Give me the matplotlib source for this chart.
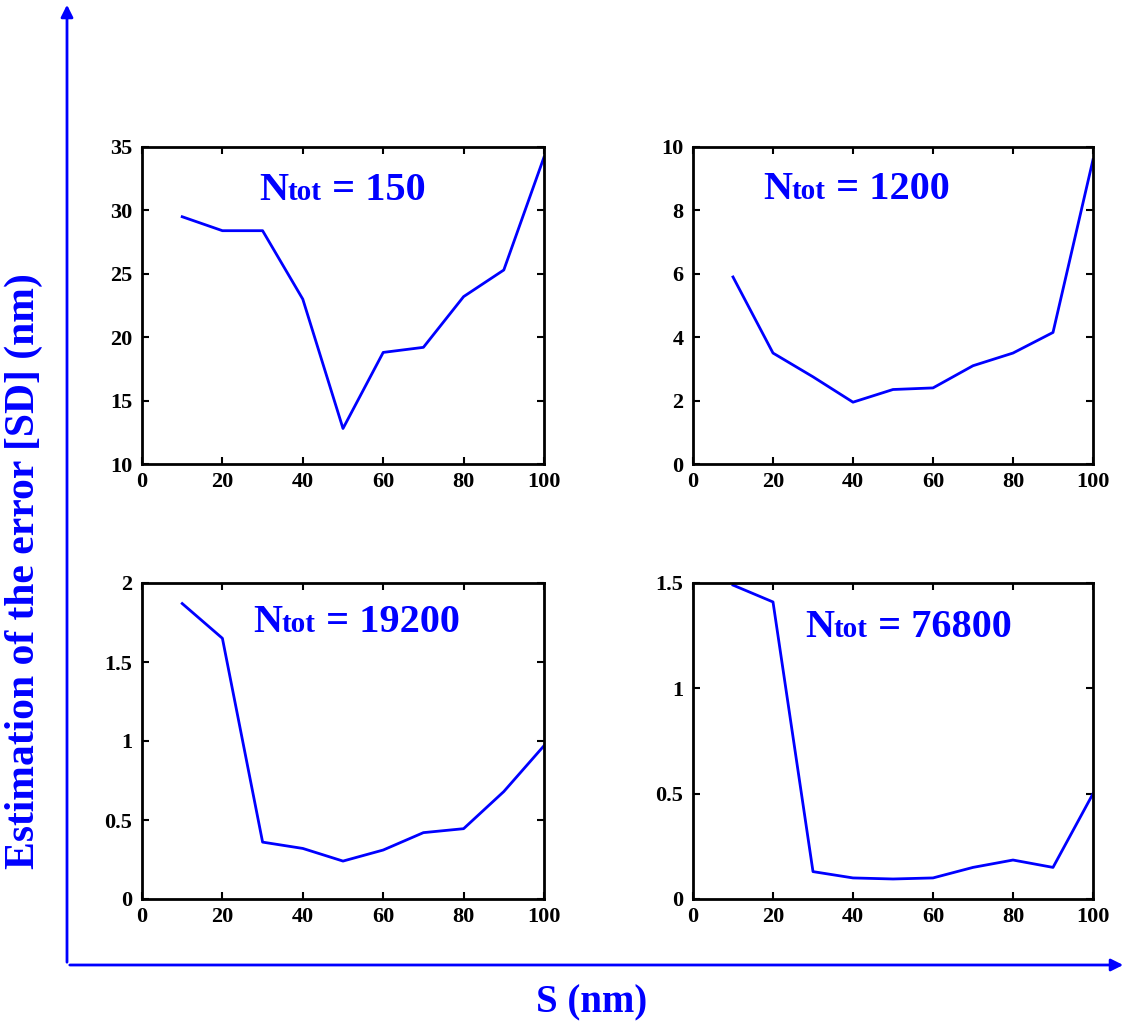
import matplotlib
matplotlib.use("Agg")
import matplotlib.pyplot as plt
from matplotlib.patches import FancyArrowPatch

s_nm = [10, 20, 30, 40, 50, 60, 70, 80, 90, 100]
err_150 = [29.5, 28.4, 28.4, 23.0, 12.8, 18.8, 19.2, 23.2, 25.3, 34.2]
err_1200 = [5.9, 3.5, 2.75, 1.95, 2.35, 2.4, 3.1, 3.5, 4.15, 9.6]
err_19200 = [1.87, 1.65, 0.36, 0.32, 0.24, 0.31, 0.42, 0.445, 0.68, 0.97]
err_76800 = [1.49, 1.41, 0.13, 0.10, 0.095, 0.10, 0.15, 0.185, 0.15, 0.50]

ntot = ["150", "1200", "19200", "76800"]
series = [err_150, err_1200, err_19200, err_76800]
ylims = [(10, 35), (0, 10), (0, 2), (0, 1.5)]
yticks = [[10, 15, 20, 25, 30, 35], [0, 2, 4, 6, 8, 10],
          [0, 0.5, 1, 1.5, 2], [0, 0.5, 1, 1.5]]
ytlabels = [["10", "15", "20", "25", "30", "35"], ["0", "2", "4", "6", "8", "10"],
            ["0", "0.5", "1", "1.5", "2"], ["0", "0.5", "1", "1.5"]]
xticks = [0, 20, 40, 60, 80, 100]

plt.rcParams.update({"font.family": "Liberation Serif", "font.weight": "bold"})
W, H = 1128, 1034
fig = plt.figure(figsize=(W / 100, H / 100), dpi=100)

# axes boxes in pixels (left, top, right, bottom)
boxes = [(142, 147, 544, 464), (693, 147, 1093, 464),
         (142, 583, 544, 899), (693, 583, 1093, 899)]
label_pos = [(0.291, 0.833), (0.175, 0.836), (0.276, 0.845), (0.28, 0.829)]

for i in range(4):
    l, t, r, b = boxes[i]
    ax = fig.add_axes([l / W, 1 - b / H, (r - l) / W, (b - t) / H])
    ax.plot(s_nm, series[i], color="#0000ff", lw=2)
    ax.set_xlim(0, 100)
    ax.set_ylim(*ylims[i])
    ax.set_xticks(xticks)
    ax.set_xticklabels([str(v) for v in xticks])
    ax.set_yticks(yticks[i])
    ax.set_yticklabels(ytlabels[i])
    ax.tick_params(direction="in", length=5, width=1.5, top=True, right=True,
                   labelsize=16)
    ax.tick_params(axis="x", pad=6)
    ax.tick_params(axis="y", pad=7)
    for sp in ax.spines.values():
        sp.set_linewidth(2)
    # N_tot label: big N, small "tot" on same baseline
    x0, y0 = label_pos[i]
    t1 = ax.text(x0, y0, "N", transform=ax.transAxes, fontsize=29,
                 color="#0000ff", fontweight="bold", va="baseline")
    fig.canvas.draw()
    bb = t1.get_window_extent()
    inv = ax.transAxes.inverted()
    x1 = inv.transform((bb.x1, 0))[0]
    t2 = ax.text(x1, y0, "tot", transform=ax.transAxes, fontsize=21,
                 color="#0000ff", fontweight="bold", va="baseline")
    fig.canvas.draw()
    bb = t2.get_window_extent()
    x2 = inv.transform((bb.x1, 0))[0]
    ax.text(x2, y0, " = " + ntot[i], transform=ax.transAxes, fontsize=29,
            color="#0000ff", fontweight="bold", va="baseline")

# big outer axes arrows
fig.add_artist(FancyArrowPatch((67 / W, 1 - 965 / H), (67 / W, 1 - 2 / H),
                               transform=fig.transFigure, arrowstyle="-|>",
                               mutation_scale=18, color="#0000ff", lw=2))
fig.add_artist(FancyArrowPatch((67 / W, 1 - 965 / H), (1126 / W, 1 - 965 / H),
                               transform=fig.transFigure, arrowstyle="-|>",
                               mutation_scale=18, color="#0000ff", lw=2))

fig.text(24 / W, 1 - 571 / H, "Estimation of the error [SD] (nm)", rotation=90,
         ha="center", va="center", fontsize=30, color="#0000ff", fontweight="bold")
fig.text(592 / W, 1 - 1003 / H, "S (nm)", ha="center", va="center",
         fontsize=28, color="#0000ff", fontweight="bold")

fig.savefig("out.png", dpi=100)
